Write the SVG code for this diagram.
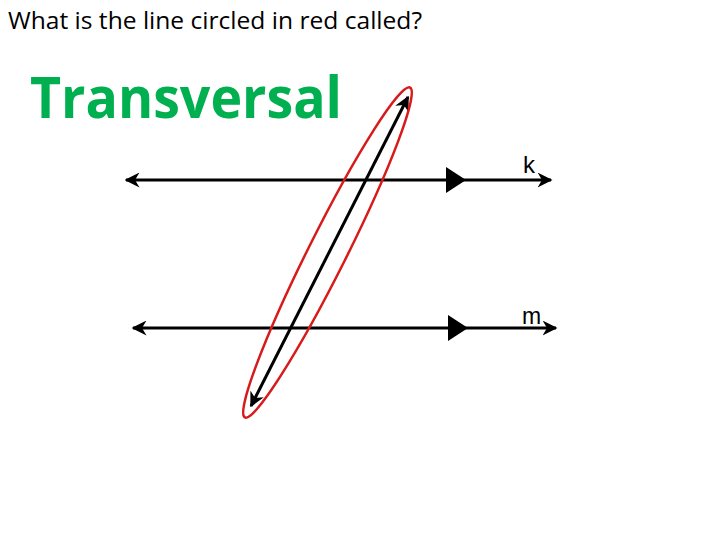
<svg xmlns="http://www.w3.org/2000/svg" width="720" height="540" viewBox="0 0 720 540">
<defs>
<style>
.ln{stroke:#000;stroke-width:3;fill:none}
.lbl{font-family:"Liberation Sans",Arial,sans-serif;fill:#000}
</style>
<marker id="ah" viewBox="0 0 10 10" refX="9" refY="5" markerWidth="5" markerHeight="5" orient="auto-start-reverse" markerUnits="strokeWidth">
<path d="M0,0 L10,5 L0,10 L3,5 Z" fill="#000"/>
</marker>
</defs>
<rect width="720" height="540" fill="#fff"/>
<text x="8" y="29" font-family="'Open Sans','Liberation Sans',sans-serif" font-size="24" textLength="414" lengthAdjust="spacingAndGlyphs" fill="#000">What is the line circled in red called?</text>
<text x="30" y="118" font-family="'Open Sans','Liberation Sans',sans-serif" font-weight="bold" font-size="58" textLength="312" lengthAdjust="spacingAndGlyphs" fill="#00B050">Transversal</text>
<g id="connectors">
<line id="line-k" class="ln" x1="126" y1="180" x2="551" y2="180" marker-start="url(#ah)" marker-end="url(#ah)"/>
<line id="line-m" class="ln" x1="133" y1="328" x2="556" y2="328" marker-start="url(#ah)" marker-end="url(#ah)"/>
<line id="transversal" class="ln" x1="408" y1="97" x2="251" y2="406" marker-start="url(#ah)" marker-end="url(#ah)"/>
</g>
<g id="parallel-marks">
<path d="M446,167 L466,180 L446,193 Z" fill="#000"/>
<path d="M448,315 L468,328 L448,341 Z" fill="#000"/>
</g>
<g id="label-k"><text class="lbl" x="523" y="173" font-size="24">k</text></g>
<g id="label-m"><text class="lbl" x="522" y="324" font-size="23">m</text></g>
<g id="red-circle">
<ellipse cx="327.5" cy="252.5" rx="184.5" ry="19" transform="rotate(-63.4 327.5 252.5)" fill="none" stroke="#D71A1A" stroke-width="2.5"/>
</g>
</svg>
